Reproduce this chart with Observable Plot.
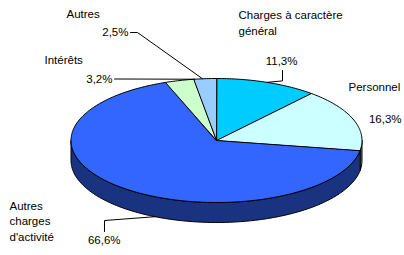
<!DOCTYPE html>
<html><head><meta charset="utf-8">
<script src="https://cdn.jsdelivr.net/npm/d3@7"></script>
<script src="https://cdn.jsdelivr.net/npm/@observablehq/plot@0.6"></script>
<style>body{margin:0;background:#fff}svg{display:block}</style>
</head><body><div id="chart"></div>
<script>
// ---- data ----
const categories = ["Charges à caractère général", "Personnel", "Autres charges d'activité", "Intérêts", "Autres"];
const shares = [11.3, 16.3, 66.6, 3.2, 2.5];
const percentLabels = ["11,3%", "16,3%", "66,6%", "3,2%", "2,5%"];
const nameLabels = ["Charges à caractère\ngénéral", "Personnel", "Autres\ncharges\nd'activité", "Intérêts", "Autres"];
const colors = ["#00CCFF", "#CCFFFF", "#3366FF", "#CCFFCC", "#99CCFF"];
const sideColors = ["#006680", "#668080", "#1A3380", "#668066", "#4D6680"];

// ---- layout ----
const W = 404, H = 255;
const cx = 216, cy = 140, rx = 145.5, ry = 62, depth = 20;
const rad = d => d * Math.PI / 180;
const pt = (a, dz = 0) => ({x: cx + rx * Math.sin(rad(a)), y: cy - ry * Math.cos(rad(a)) + dz});

const total = d3.sum(shares);
let acc = 0;
const slices = shares.map((v, i) => {
  const a0 = acc / total * 360; acc += v; const a1 = acc / total * 360;
  return {i, a0, a1};
});

const topPts = [], sidePts = [];
for (const s of slices) {
  const poly = [{x: cx, y: cy}];
  for (let a = s.a0; a < s.a1; a += 1) poly.push(pt(a));
  poly.push(pt(s.a1));
  poly.forEach(p => topPts.push({...p, k: s.i, fill: colors[s.i]}));
  const b0 = Math.max(s.a0, 90), b1 = Math.min(s.a1, 270);
  if (b1 > b0) {
    const up = [], dn = [];
    for (let a = b0; a < b1; a += 1) { up.push(pt(a)); dn.push(pt(a, depth)); }
    up.push(pt(b1)); dn.push(pt(b1, depth));
    [...up, ...dn.reverse()].forEach(p => sidePts.push({...p, k: s.i, fill: sideColors[s.i]}));
  }
}

// label placements (baseline positions) and leader lines
const nameLayout = [
  {x: 238, y: 34},
  {x: 348, y: 90},
  {x: 9, y: 240},
  {x: 44, y: 63},
  {x: 66, y: 17}
];
const pctLayout = [
  {x: 297, y: 64},
  {x: 401, y: 122},
  {x: 120, y: 243},
  {x: 112, y: 82},
  {x: 128, y: 35}
];
const mid = s => (s.a0 + s.a1) / 2;
const leaders = [];
const addLeader = (k, pts) => pts.forEach(p => leaders.push({...p, k}));
{
  const p0 = pt(mid(slices[0]));
  addLeader(0, [p0, {x: 282, y: p0.y - 1.5}, {x: 282, y: 70}]);
  const p2 = pt(205, depth);
  addLeader(2, [p2, {x: 104, y: 220}, {x: 104, y: 231}]);
  const p3 = pt(mid(slices[3]) + 6);
  addLeader(3, [p3, {x: 114, y: 78.5}]);
  const p4 = pt(mid(slices[4]) - 1);
  addLeader(4, [p4, {x: 137, y: 32}, {x: 130, y: 32}]);
}

const nameText = nameLabels.map((t, i) => ({t, ...nameLayout[i]}));
const pctText = percentLabels.map((t, i) => ({t, ...pctLayout[i]}));

const chart = Plot.plot({
  width: W, height: H,
  margin: 0,
  x: {domain: [0, W], range: [0, W], axis: null},
  y: {domain: [0, H], range: [0, H], axis: null},
  color: {type: "identity"},
  style: {fontFamily: "'Liberation Sans', Arial, sans-serif", background: "#fff"},
  marks: [
    Plot.line(sidePts, {x: "x", y: "y", z: "k", fill: "fill", stroke: "#000", strokeWidth: 1, curve: "linear-closed"}),
    Plot.line(topPts, {x: "x", y: "y", z: "k", fill: "fill", stroke: "#000", strokeWidth: 1, curve: "linear-closed", strokeLinejoin: "round"}),
    Plot.line(leaders, {x: "x", y: "y", z: "k", stroke: "#000", strokeWidth: 1}),
    Plot.text(nameText, {x: "x", y: "y", text: "t", textAnchor: "start", lineAnchor: "bottom", fontSize: 11.5, lineHeight: 1.32, fill: "#000"}),
    Plot.text(pctText, {x: "x", y: "y", text: "t", textAnchor: "end", lineAnchor: "bottom", fontSize: 11.5, fill: "#000"})
  ]
});
document.getElementById("chart").appendChild(chart);
</script>
</body></html>
